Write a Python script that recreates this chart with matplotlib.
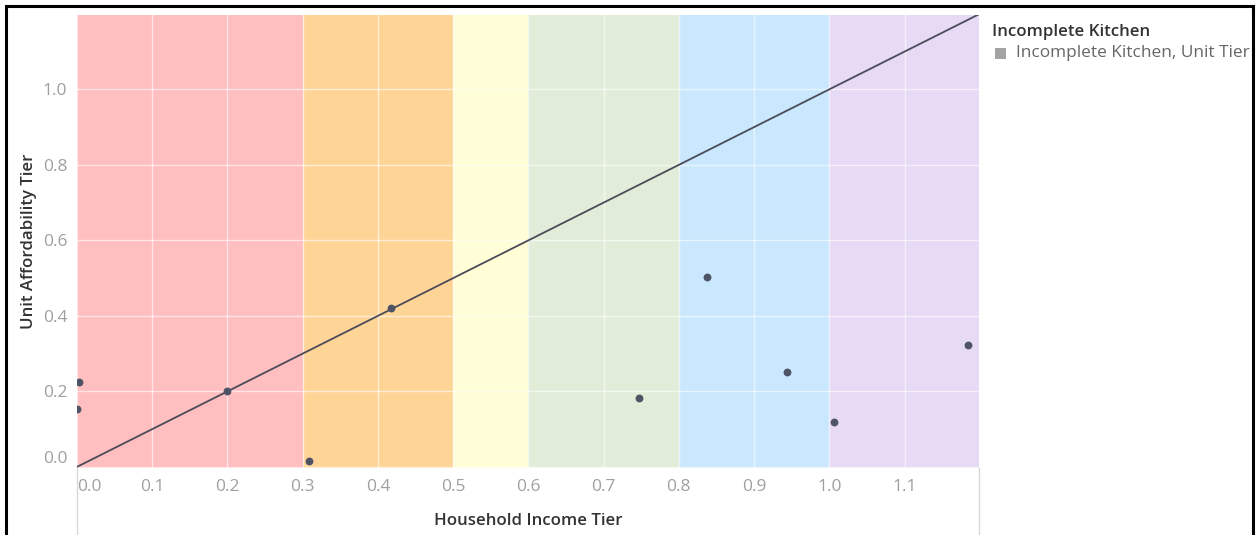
import matplotlib
matplotlib.use("Agg")
import matplotlib.pyplot as plt
from matplotlib.patches import Rectangle
from matplotlib.lines import Line2D

plt.rcParams['font.family'] = ['Open Sans', 'DejaVu Sans']

# Household income tier vs. unit affordability tier (incomplete kitchen)
income_tier = [0.0, 0.003, 0.20, 0.308, 0.417, 0.747, 0.838, 0.944, 1.006, 1.185]
unit_tier = [0.154, 0.225, 0.20, 0.015, 0.42, 0.183, 0.504, 0.252, 0.118, 0.323]

# Income tier bands and their fills
band_edges = [0.0, 0.3, 0.5, 0.6, 0.8, 1.0, 1.2]
band_colors = ['#FFBEBF', '#FFD597', '#FFFED6', '#E1EDD8', '#C9E7FD', '#E7DAF4']

x_ticks = [0.0, 0.1, 0.2, 0.3, 0.4, 0.5, 0.6, 0.7, 0.8, 0.9, 1.0, 1.1]
y_ticks = [0.0, 0.2, 0.4, 0.6, 0.8, 1.0]

W, H = 1258, 535
fig = plt.figure(figsize=(W / 100, H / 100), dpi=100)
ax = fig.add_axes([77 / W, 1 - 468 / H, (979 - 77) / W, (468 - 15) / H])

for lo, hi, c in zip(band_edges[:-1], band_edges[1:], band_colors):
    ax.axvspan(lo, hi, color=c, zorder=0.1, lw=0)

ax.set_xlim(0, 1.199)
ax.set_ylim(-0.003, 1.197)

# parity line y = x
ax.plot([0, 1.2], [0, 1.2], color='#4B4B5A', lw=1.3, zorder=2)
ax.scatter(income_tier, unit_tier, s=32, color='#4E5466', zorder=3, linewidths=0)

ax.set_axisbelow(True)
ax.set_xticks(x_ticks)
ax.set_yticks(y_ticks)
ax.set_xticklabels([f"{v:.1f}" for v in x_ticks])
ax.set_yticklabels([f"{v:.1f}" for v in y_ticks])
ax.grid(True, color='white', lw=1.0, alpha=0.6)
ax.tick_params(length=0, labelsize=12.5, colors='#A0A0A0', pad=8)
ax.tick_params(axis='y', pad=7)
xl = ax.get_xticklabels()
xl[0].set_horizontalalignment('left')
yl = ax.get_yticklabels()
yl[0].set_verticalalignment('bottom')
for s in ax.spines.values():
    s.set_visible(False)

ax.set_xlabel('Household Income Tier', fontsize=12.2, color='#333333',
              labelpad=13, fontweight=600)
ax.set_ylabel('Unit Affordability Tier', fontsize=12.2, color='#333333',
              labelpad=4, fontweight=600)

# pane dividers below the plot
for px in (77, 979):
    fig.add_artist(Line2D([px / W, px / W], [0, 1 - 468 / H],
                          color='#D9D9D9', lw=1.0))

# legend
fig.text(992 / W, 1 - 32 / H, 'Incomplete Kitchen', fontsize=12.2,
         color='#333333', va='center', ha='left', fontweight=600)
fig.add_artist(Rectangle((995 / W, 1 - 59 / H), 11 / W, 11 / H,
                         color='#A3A3A3', lw=0))
fig.text(1016 / W, 1 - 53 / H, 'Incomplete Kitchen, Unit Tier', fontsize=12.4,
         color='#666666', va='center', ha='left')

# outer frame
fig.add_artist(Rectangle((6 / W, -0.1), (1253 - 6) / W, 1.1 - 6 / H,
                         fill=False, ec='black', lw=2.2))

fig.savefig('out.png', dpi=100)
